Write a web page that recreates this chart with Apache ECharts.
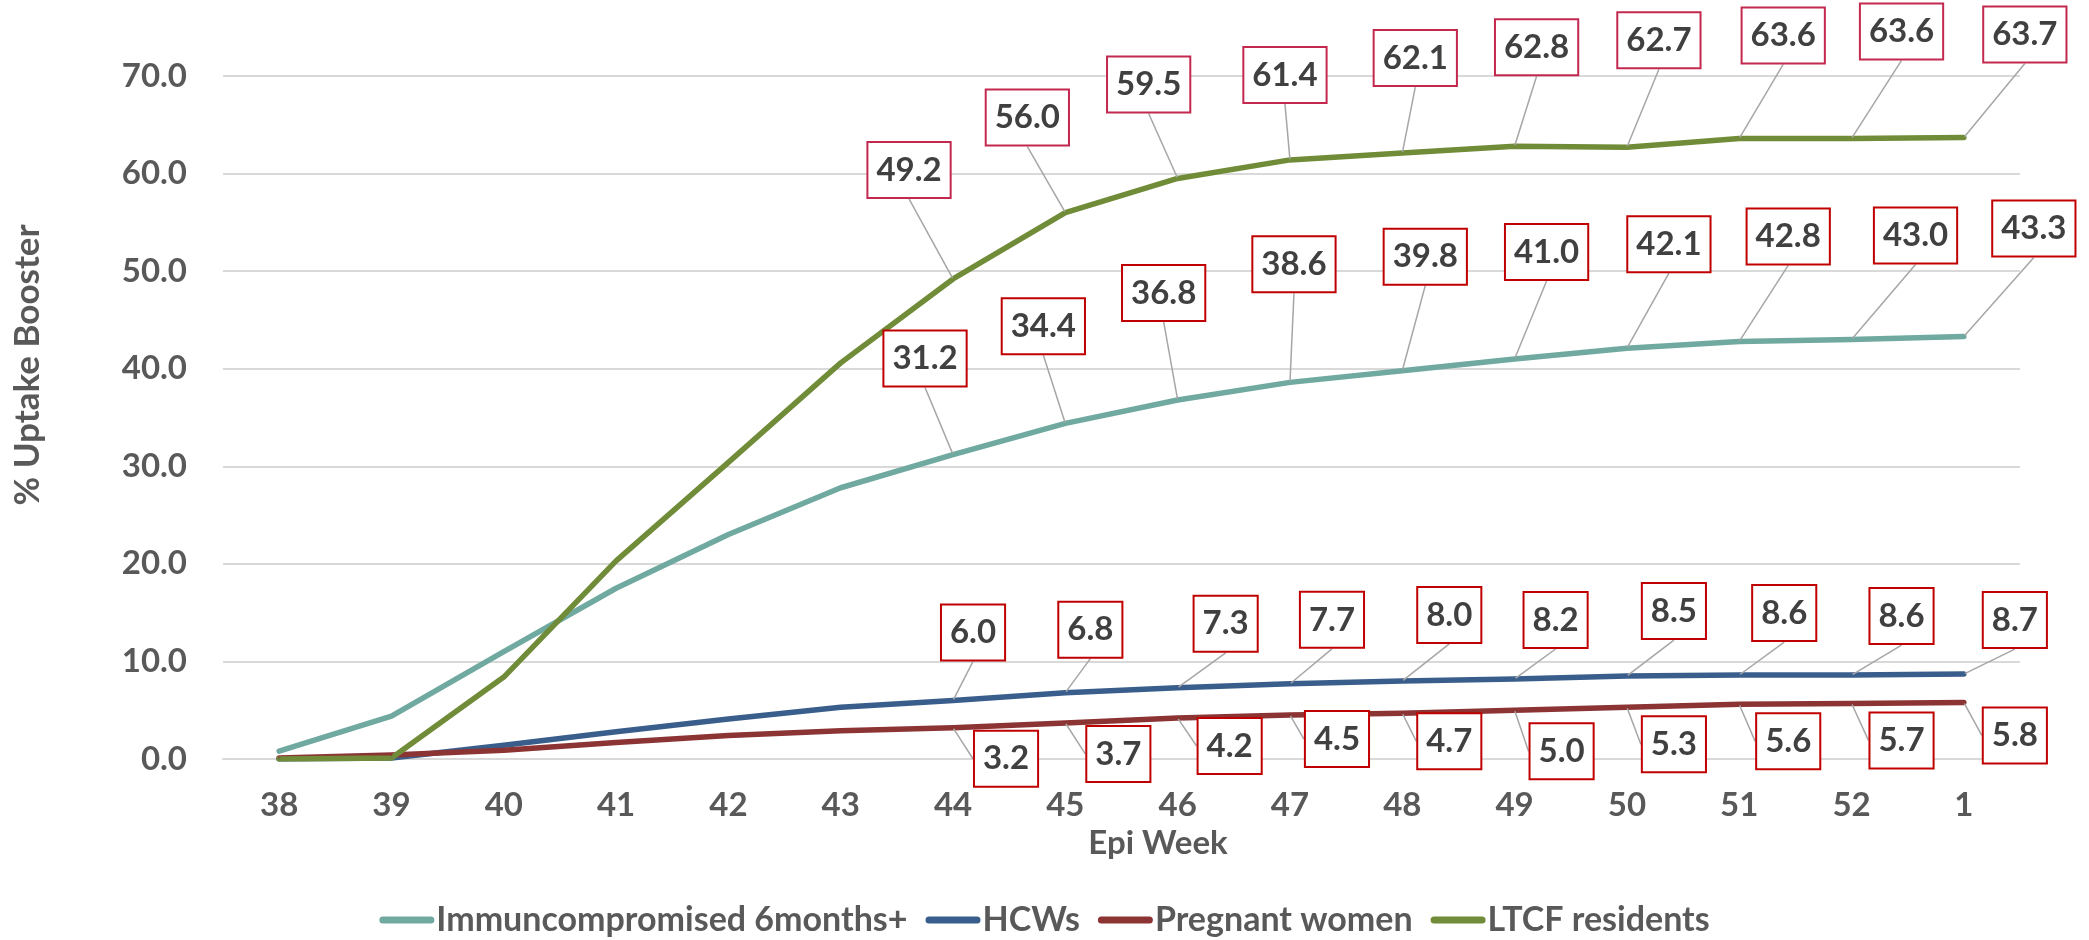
<!DOCTYPE html>
<html>
<head>
<meta charset="utf-8">
<script src="https://cdn.jsdelivr.net/npm/echarts@6/dist/echarts.min.js"></script>
<style>
  html, body { margin: 0; padding: 0; background: #ffffff; }
  #chart { width: 2089px; height: 940px; }
</style>
</head>
<body>
<div id="chart"></div>
<script>
// ---------- data ----------
const weeks = ['38','39','40','41','42','43','44','45','46','47','48','49','50','51','52','1'];
const immuno   = [0.8, 4.4, 11.0, 17.5, 23.0, 27.8, 31.2, 34.4, 36.8, 38.6, 39.8, 41.0, 42.1, 42.8, 43.0, 43.3];
const hcws     = [0.0, 0.1, 1.4, 2.8, 4.1, 5.3, 6.0, 6.8, 7.3, 7.7, 8.0, 8.2, 8.5, 8.6, 8.6, 8.7];
const pregnant = [0.1, 0.4, 0.9, 1.7, 2.4, 2.9, 3.2, 3.7, 4.2, 4.5, 4.7, 5.0, 5.3, 5.6, 5.7, 5.8];
const ltcf     = [0.0, 0.1, 8.4, 20.3, 30.4, 40.6, 49.2, 56.0, 59.5, 61.4, 62.1, 62.8, 62.7, 63.6, 63.6, 63.7];
const seriesNames = ['Immuncompromised 6months+', 'HCWs', 'Pregnant women', 'LTCF residents'];
const yTicks = { min: 0, max: 70, interval: 10 };

// ---------- layout / style ----------
const FONT = 'Lato, "Open Sans", sans-serif';
const labelStart = 6; // first labelled week index (44)
// label offsets (dx, dy) from the point, starting at labelStart
const labelOffsets = {
  immuno:   [[-28,-96],[-22,-97],[-14,-107],[4,-118],[23,-114],[32,-107],[42,-104],[49,-105],[64,-104],[70,-108]],
  hcws:     [[20,-68],[25,-63],[48,-64],[42,-64],[47,-66],[41,-59],[47,-65],[45,-62],[50,-59],[51,-54]],
  pregnant: [[53,31],[53,31],[52,28],[47,24],[47,28],[47,41],[47,37],[49,37],[50,37],[51,33]],
  ltcf:     [[-44,-109],[-38,-95],[-29,-94],[-5,-85],[13,-95],[22,-99],[32,-107],[44,-103],[50,-107],[61,-103]]
};
const colors = { immuno: '#70A9A0', hcws: '#3A5E8C', pregnant: '#8C3434', ltcf: '#718C38' };
const boxBorder = { immuno: '#C00000', hcws: '#C00000', pregnant: '#C00000', ltcf: '#C3284F' };

function makeSeries(key, name, values) {
  const offs = labelOffsets[key];
  return {
    name: name,
    type: 'line',
    data: values.map((v, i) => ({ value: v, label: { show: i >= labelStart } })),
    symbol: 'circle',
    symbolSize: 2,
    showSymbol: true,
    itemStyle: { color: colors[key] },
    lineStyle: { color: colors[key], width: 5.5, cap: 'round', join: 'round' },
    label: {
      position: 'inside',
      formatter: p => p.value.toFixed(1),
      fontFamily: FONT,
      fontSize: 33,
      fontWeight: 'bold',
      color: '#404040',
      backgroundColor: '#ffffff',
      borderColor: boxBorder[key],
      borderWidth: 2,
      padding: [9, 8, 7, 8],
      lineHeight: 38
    },
    labelLine: { show: true, lineStyle: { color: '#A6A6A6', width: 1.5 } },
    labelLayout: function (params) {
      const o = offs[params.dataIndex - labelStart];
      if (!o) return {};
      return { dx: o[0], dy: o[1] };
    },
    emphasis: { disabled: true },
    z: 2
  };
}

const chart = echarts.init(document.getElementById('chart'), null, { renderer: 'canvas' });
chart.setOption({
  animation: false,
  backgroundColor: '#ffffff',
  grid: { left: 223, right: 69, top: 76, bottom: 181 },
  legend: {
    data: seriesNames,
    left: 'center',
    top: 898,
    itemGap: 18,
    itemWidth: 55,
    itemHeight: 7,
    icon: 'path://M3.5,0 H51.5 A3.5,3.5 0 0 1 51.5,7 H3.5 A3.5,3.5 0 0 1 3.5,0 Z',
    textStyle: { fontFamily: FONT, fontSize: 34, fontWeight: 'bold', color: '#595959', padding: [0, 0, 0, -3] }
  },
  xAxis: {
    type: 'category',
    data: weeks,
    boundaryGap: true,
    axisLine: { show: true, lineStyle: { color: '#D9D9D9', width: 2 } },
    axisTick: { show: false },
    axisLabel: { fontFamily: FONT, fontSize: 33, fontWeight: 'bold', color: '#595959', margin: 30 }
  },
  yAxis: {
    type: 'value',
    min: yTicks.min, max: yTicks.max, interval: yTicks.interval,
    axisLine: { show: false },
    axisTick: { show: false },
    splitLine: { lineStyle: { color: '#D9D9D9', width: 2 } },
    axisLabel: { fontFamily: FONT, fontSize: 33, fontWeight: 'bold', color: '#595959', margin: 36,
                 formatter: v => v.toFixed(1) }
  },
  graphic: [
    { type: 'text', x: 28, y: 365, rotation: Math.PI / 2,
      style: { text: '% Uptake Booster', fontFamily: FONT, fontSize: 35, fontWeight: 'bold', fill: '#595959',
               align: 'center', verticalAlign: 'middle' } },
    { type: 'text', x: 1158, y: 843,
      style: { text: 'Epi Week', fontFamily: FONT, fontSize: 33, fontWeight: 'bold', fill: '#595959',
               align: 'center', verticalAlign: 'middle' } }
  ],
  series: [
    makeSeries('immuno', seriesNames[0], immuno),
    makeSeries('hcws', seriesNames[1], hcws),
    makeSeries('pregnant', seriesNames[2], pregnant),
    makeSeries('ltcf', seriesNames[3], ltcf)
  ]
});
</script>
</body>
</html>
